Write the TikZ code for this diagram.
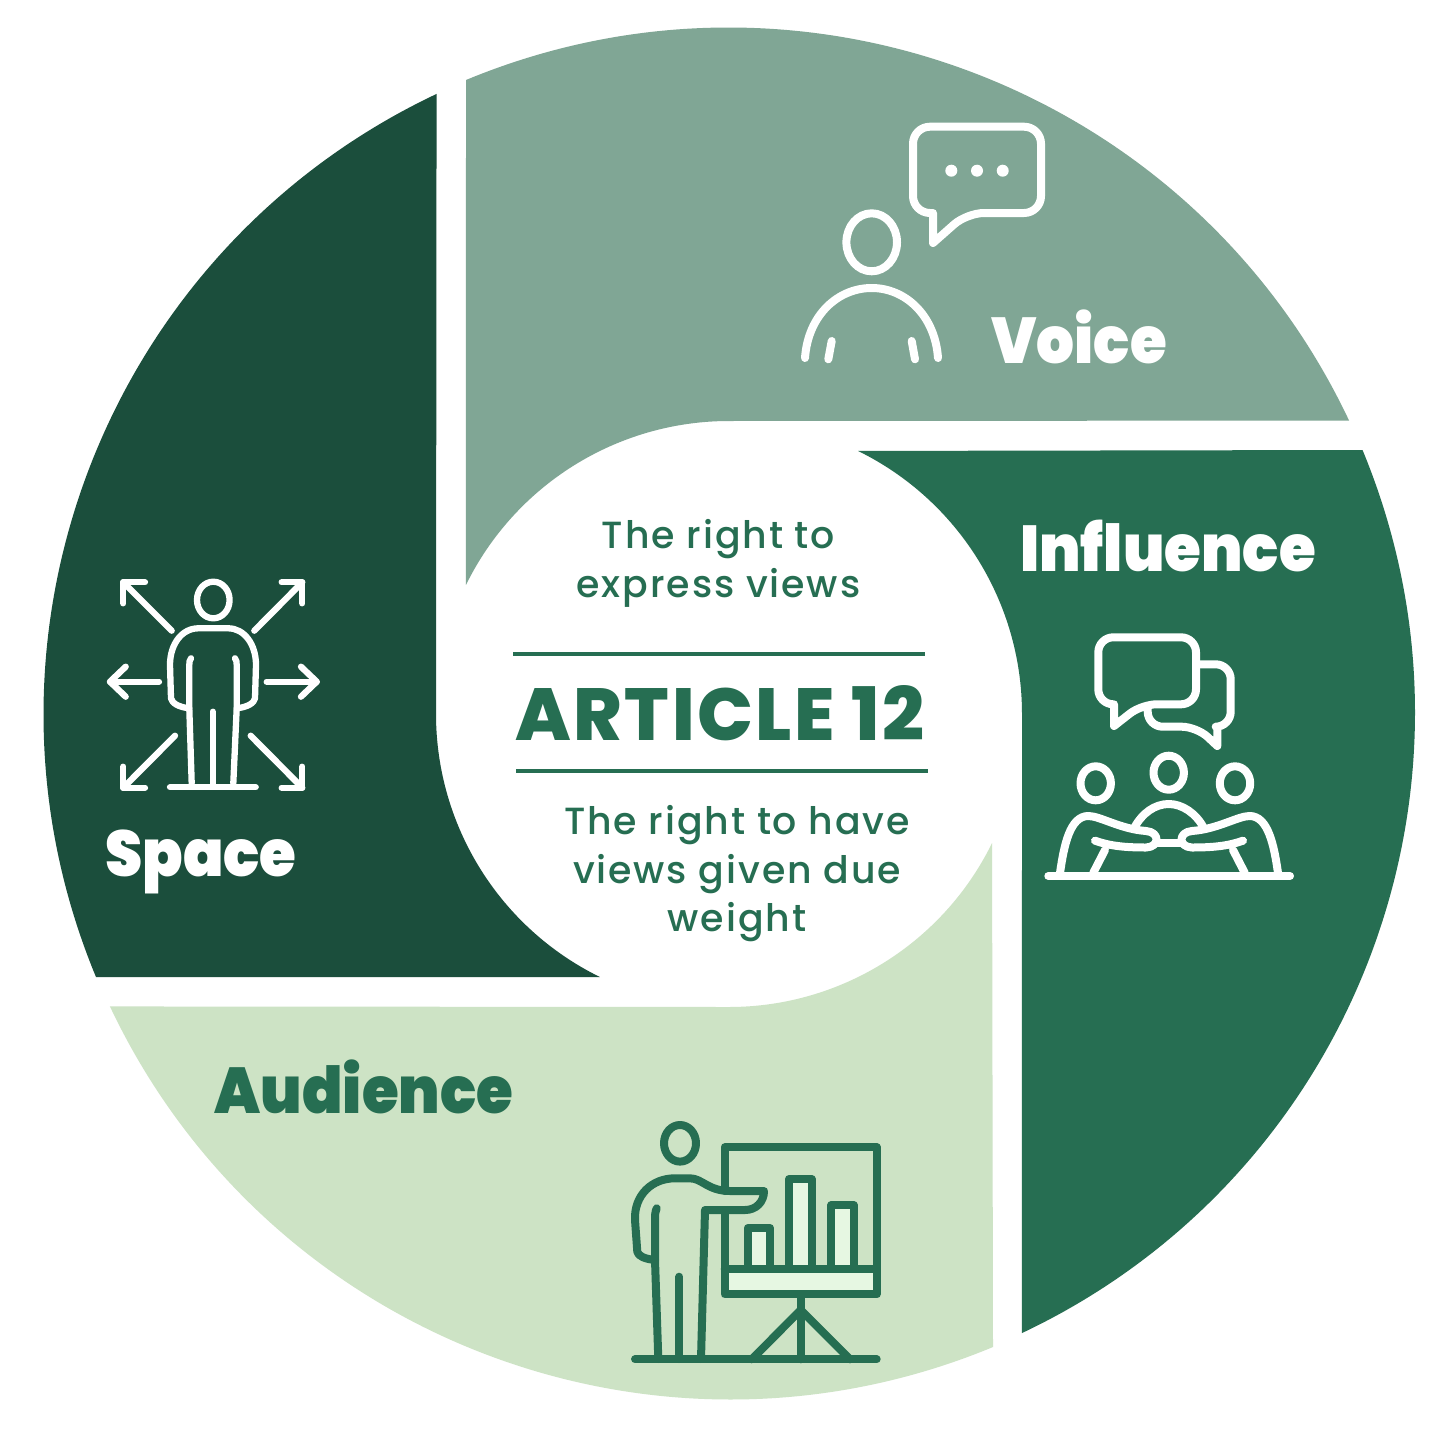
\documentclass[tikz,border=0pt]{standalone}
\usepackage{fontspec}
\setmainfont{Poppins}
\newfontfamily\labelfont{Poppins}[UprightFont=* Black, FakeStretch=0.92]
\newfontfamily\titlefont{Poppins}[UprightFont=* ExtraBold, LetterSpace=3.5]
\newfontfamily\bodyfont{Poppins}[UprightFont=* Medium, LetterSpace=5]
\definecolor{voicecol}{HTML}{80A695}
\definecolor{influencecol}{HTML}{266E52}
\definecolor{audiencecol}{HTML}{CDE3C5}
\definecolor{spacecol}{HTML}{1B4E3C}
\definecolor{stripcol}{HTML}{E6F7E2}
\tikzset{
  seglabel/.style={font=\labelfont\fontsize{65}{65}\selectfont, inner sep=0pt},
  bodytext/.style={font=\bodyfont\fontsize{38}{48.7}\selectfont, text=influencecol, align=center, inner sep=0pt},
  iconline/.style={line width=8bp, line cap=round, line join=round, fill=none},
  thinline/.style={line width=6.3bp, line cap=round, line join=round, fill=none},
}
\begin{document}
\begin{tikzpicture}[x=1bp,y=-1bp]
  \useasboundingbox (0,0) rectangle (1452,1436);
  \fill[white] (0,0) rectangle (1452,1436);
  % Segment: Voice
  \fill[voicecol] (466,80) arc (247.47:334.71:686) -- (729,421) arc (270:206.13:293) -- cycle;
  % Segment: Influence
  \fill[influencecol] (1362.5,450) arc (-22.53:64.71:686) -- (1022,714) arc (0:-63.87:293) -- cycle;
  % Segment: Audience
  \fill[audiencecol] (993,1347) arc (67.47:154.71:686) -- (729,1007) arc (90:26.13:293) -- cycle;
  % Segment: Space
  \fill[spacecol] (96,977) arc (157.47:244.71:686) -- (436,714) arc (180:116.13:293) -- cycle;
  % Centre text
  \node[bodytext] (express) at (718.5,563.5) {The right to\\express views};
  \draw[influencecol, line width=3.2bp] (513,654) -- (925,654);
  \node[font=\titlefont\fontsize{74}{74}\selectfont, text=influencecol, inner sep=0pt] (article) at (720,713) {ARTICLE 12};
  \draw[influencecol, line width=3.2bp] (516,771) -- (928,771);
  \node[bodytext] (weight) at (737,874) {The right to have\\views given due\\weight};
  % Segment labels
  \node[seglabel, text=white] (voice) at (1079,337) {Voice};
  \node[seglabel, text=white] (influence) at (1168,546) {Influence};
  \node[seglabel, text=white] (space) at (201,862) {Space};
  \node[seglabel, text=influencecol] (audience) at (364,1087) {Audience};
  % Icon: Voice
  \begin{scope}[white]
    \draw[iconline] (933,213) [rounded corners=17bp] -- (913,213) -- (913,126.7) -- (1041,126.7) -- (1041,213) -- (967,213) [sharp corners] -- (933,243) -- cycle;
    \foreach \dotx in {951.3,977,1002.7}
      \fill (\dotx,170.7) circle (6);
    \draw[iconline] (871.7,242.3) ellipse [x radius=25.3, y radius=29];
    \draw[iconline] (805,358) .. controls (808,315) and (838,288) .. (871.7,288) .. controls (905,288) and (935,315) .. (938,358);
    \draw[iconline] (831.7,341) -- (828.3,359.3);
    \draw[iconline] (911.7,341) -- (915,359.3);
  \end{scope}
  % Icon: Influence
  \begin{scope}[white]
    \draw[iconline] (1114,704.3) [rounded corners=15bp] -- (1098.3,704.3) -- (1098.3,637.3) -- (1196,637.3) -- (1196,704.3) -- (1141.7,704.3) [sharp corners] -- (1114,726) -- cycle;
    \draw[iconline] (1147.7,706) [rounded corners=15bp] -- (1147.7,726.7) -- (1196.7,726.7) [sharp corners] -- (1217.3,746) -- (1217.3,726.7) [rounded corners=15bp] -- (1230.7,726.7) -- (1230.7,664.3) -- (1200,664.3);
    \foreach \headx/\heady in {1095.7/783.3,1168.7/772.7,1235/783.3}
      \draw[iconline] (\headx,\heady) ellipse [x radius=15.2, y radius=17];
    \draw[iconline] (1048.3,876) -- (1290,876);
    \draw[iconline] (1134,828.3) .. controls (1142,813) and (1155,804) .. (1168.7,804) .. controls (1182,804) and (1196,813) .. (1204,828.3);
    \draw[iconline] (1060,873) .. controls (1064,845) and (1070,816) .. (1088.3,816) .. controls (1100,816) and (1120,829) .. (1146,831) .. controls (1160,832) and (1160,847) .. (1146,847.5) .. controls (1125,847.5) and (1110,846) .. (1095,840.7);
    \draw[iconline] (1278,873) .. controls (1274,845) and (1268,816) .. (1249.7,816) .. controls (1238,816) and (1218,829) .. (1192,831) .. controls (1178,832) and (1178,847) .. (1192,847.5) .. controls (1213,847.5) and (1228,846) .. (1243,840.7);
    \draw[iconline] (1105,850) -- (1093.3,872.7);
    \draw[iconline] (1233,850) -- (1244.7,872.7);
    \draw[iconline] (1156,843.3) -- (1182,843.3);
  \end{scope}
  % Icon: Audience
  \begin{scope}[influencecol]
    \fill[stripcol] (724.7,1268.7) rectangle (876.7,1294.3);
    \fill[stripcol] (747.7,1228) rectangle (770,1268.7);
    \fill[stripcol] (789,1179) rectangle (811.7,1268.7);
    \fill[stripcol] (831.3,1205) rectangle (853.7,1268.7);
    \draw[iconline] (724.7,1191) -- (724.7,1147.3) -- (876.7,1147.3) -- (876.7,1294.3) -- (724.7,1294.3) -- (724.7,1210);
    \draw[iconline] (724.7,1268.7) -- (876.7,1268.7);
    \draw[iconline] (747.7,1268.7) -- (747.7,1228) -- (770,1228) -- (770,1268.7);
    \draw[iconline] (789,1268.7) -- (789,1179) -- (811.7,1179) -- (811.7,1268.7);
    \draw[iconline] (831.3,1268.7) -- (831.3,1205) -- (853.7,1205) -- (853.7,1268.7);
    \draw[iconline] (800.7,1294.3) -- (800.7,1359.3);
    \draw[iconline] (751.7,1359.3) -- (800.7,1310) -- (850,1359.3);
    \draw[iconline] (635,1359.3) -- (876.7,1359.3);
    \draw[iconline] (680,1143.3) ellipse [x radius=16, y radius=18.3];
    \draw[iconline] (658.3,1359) -- (655,1260) .. controls (645,1259) and (638,1256) .. (637.3,1251.7) -- (635,1220) .. controls (634,1195) and (652,1178.3) .. (675,1178.3) -- (690,1178.3) .. controls (702,1178.3) and (708,1191) .. (730,1191) -- (764,1191) .. controls (764,1202) and (756,1210) .. (745,1210) -- (705,1210) -- (701,1359);
    \draw[iconline] (656.7,1208.3) .. controls (655,1212) and (655,1216) .. (655,1220) -- (655,1260);
    \draw[iconline] (679.3,1276.7) -- (679.3,1359);
  \end{scope}
  % Icon: Space
  \begin{scope}[white]
    \draw[thinline] (213.3,600) ellipse [x radius=16.3, y radius=18.3];
    \draw[thinline] (191.7,783.3) -- (189.3,708.3) .. controls (178,707) and (172,703) .. (171,698.3) -- (170,665) .. controls (170,644) and (182,628.3) .. (198.3,628.3) -- (228.3,628.3) .. controls (244,628.3) and (256,644) .. (256,665) -- (255,698.3) .. controls (254,703) and (248,707) .. (236.7,708.3) -- (233.3,783.3);
    \draw[thinline] (191,658.3) .. controls (189.5,660) and (189.3,662) .. (189.3,665) -- (189.3,708.3);
    \draw[thinline] (235,658.3) .. controls (236.5,660) and (236.7,662) .. (236.7,665) -- (236.7,708.3);
    \draw[thinline] (212.7,711.7) -- (212.7,783.3);
    \draw[thinline] (170,787.3) -- (255.7,787.3);
    \foreach \tailx/\taily/\tipx/\tipy/\ax/\ay/\bx/\by in {
      171.7/630.7/123.3/582.3/145/582.3/123.3/603.3,
      254.3/630.7/302.3/582.3/281.7/582.3/302.3/603.3,
      159/681.7/110/681.7/125.7/666.7/125.7/696.7,
      266.7/681.7/316.7/681.7/301/666.7/301/696.7,
      175/735.7/123.3/787.7/123.3/766.7/145/787.7,
      250.7/735.7/302.3/787.7/302.3/766.7/281.7/787.7}
    {
      \draw[thinline] (\tailx,\taily) -- (\tipx,\tipy);
      \draw[thinline] (\ax,\ay) -- (\tipx,\tipy) -- (\bx,\by);
    }
  \end{scope}
\end{tikzpicture}
\end{document}
